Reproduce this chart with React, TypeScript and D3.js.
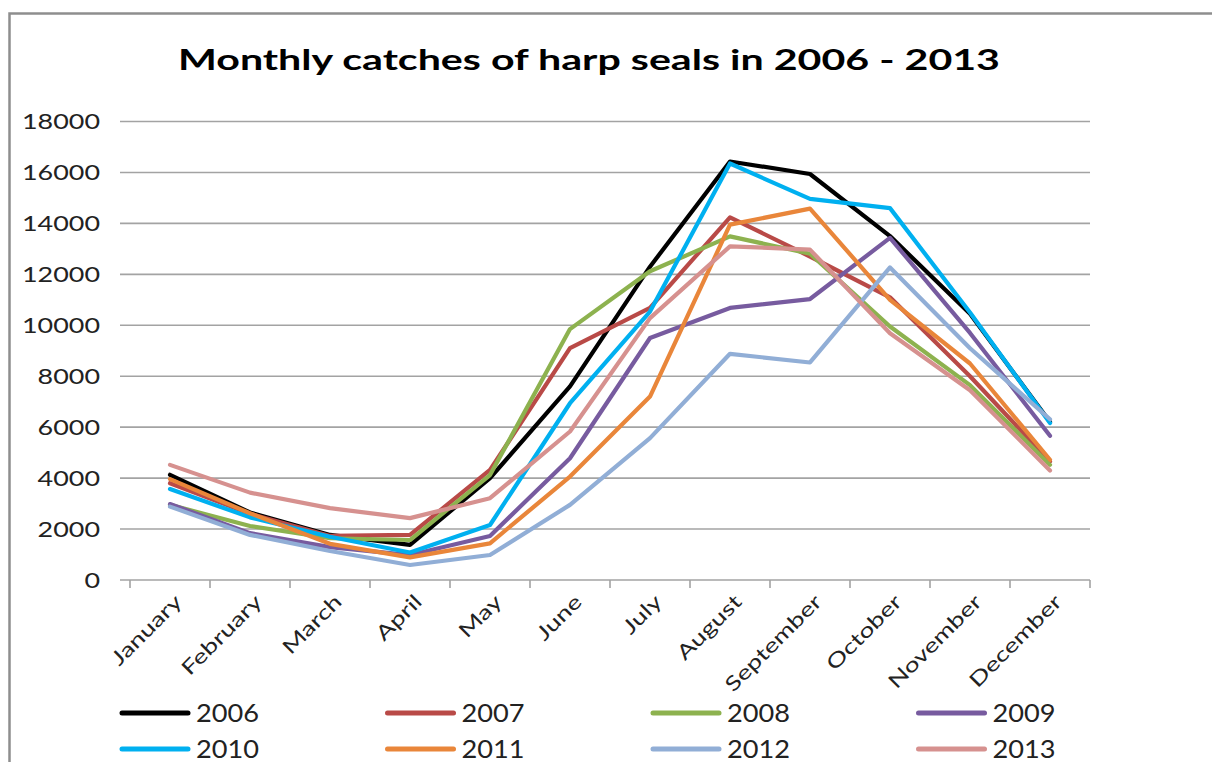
import * as d3 from 'd3'

// data
const months = ['January', 'February', 'March', 'April', 'May', 'June', 'July', 'August', 'September', 'October', 'November', 'December']
const years = ['2006', '2007', '2008', '2009', '2010', '2011', '2012', '2013']
const c2006 = [4130, 2650, 1770, 1380, 4000, 7600, 12300, 16430, 15940, 13500, 10450, 6200]
const c2007 = [3800, 2600, 1730, 1770, 4320, 9100, 10680, 14240, 12700, 11100, 8000, 4650]
const c2008 = [2950, 2120, 1640, 1570, 4120, 9850, 12120, 13490, 12810, 9950, 7650, 4520]
const c2009 = [2980, 1840, 1290, 980, 1730, 4780, 9500, 10680, 11030, 13430, 9700, 5660]
const c2010 = [3570, 2460, 1700, 1080, 2160, 6940, 10540, 16350, 14960, 14600, 10500, 6160]
const c2011 = [3960, 2620, 1420, 890, 1440, 4060, 7200, 13950, 14580, 11000, 8500, 4720]
const c2012 = [2880, 1770, 1140, 590, 980, 2950, 5570, 8880, 8540, 12270, 9100, 6310]
const c2013 = [4520, 3430, 2820, 2430, 3210, 5830, 10280, 13100, 12970, 9690, 7450, 4300]
const yTicks = [0, 2000, 4000, 6000, 8000, 10000, 12000, 14000, 16000, 18000]
const colors = ['#000000', '#b94a47', '#8db24f', '#775b9f', '#00b0f0', '#e9863a', '#91aed6', '#d6918f']

const series = [c2006, c2007, c2008, c2009, c2010, c2011, c2012, c2013]

const FONT = 'Lato, "Open Sans", sans-serif'

const App = () => {
  const width = 1212, height = 762
  const left = 130, right = 1090, top = 121.5, bottom = 580

  const x = d3.scaleBand().domain(months).range([left, right])
  const cx = (m: string) => (x(m) as number) + x.bandwidth() / 2
  const y = d3.scaleLinear().domain([0, 18000]).range([bottom, top])

  const line = d3.line<number>()
    .x((d, i) => cx(months[i]))
    .y(d => y(d))

  return (
    <svg width={width} height={height} style={{ position: 'absolute', left: 0, top: 0, background: '#fff' }}>
      <rect x={9.5} y={13.5} width={1300} height={900} fill='#fff' stroke='#8e8e8e' strokeWidth={2.5} />

      <text x={589} y={70} textAnchor='middle' fontFamily={FONT} fontWeight='bold' fontSize={29}
        textLength={822} lengthAdjust='spacingAndGlyphs'>Monthly catches of harp seals in 2006 - 2013</text>

      {/* GRIDLINES AND Y LABELS */}
      {yTicks.map(t => (
        <g key={t}>
          <line x1={120} x2={right} y1={y(t)} y2={y(t)} stroke='#a3a3a3' strokeWidth={1.6} />
          <text x={100} y={y(t)} dy='0.36em' textAnchor='end' fontFamily={FONT} fontSize={21}
            textLength={String(t).length * 15.6} lengthAdjust='spacingAndGlyphs' fill='#222'>{t}</text>
        </g>
      ))}

      {/* X AXIS TICKS */}
      {d3.range(months.length + 1).map(i => {
        const tx = left + i * x.step()
        return <line key={i} x1={tx} x2={tx} y1={bottom} y2={bottom + 8} stroke='#a3a3a3' strokeWidth={1.6} />
      })}

      {months.map(m => (
        <text key={m} transform={`translate(${cx(m) + 8}, ${bottom + 18}) rotate(-45) scale(1.33, 1)`}
          textAnchor='end' fontFamily={FONT} fontSize={20} dy='0.36em' fill='#222'>{m}</text>
      ))}

      {/* LINES */}
      {series.map((s, i) => (
        <path key={years[i]} d={line(s) || ''} fill='none' stroke={colors[i]} strokeWidth={4.2}
          strokeLinejoin='round' strokeLinecap='round' />
      ))}

      {/* LEGEND */}
      {years.map((yr, i) => {
        const lx = 122 + (i % 4) * 265.5
        const ly = i < 4 ? 713 : 749
        return (
          <g key={yr}>
            <line x1={lx} x2={lx + 66} y1={ly} y2={ly} stroke={colors[i]} strokeWidth={5} strokeLinecap='round' />
            <text x={lx + 74} y={ly} dy='0.36em' fontFamily={FONT} fontSize={25}
              textLength={63} lengthAdjust='spacingAndGlyphs' fill='#222'>{yr}</text>
          </g>
        )
      })}
    </svg>
  )
}

export default App
